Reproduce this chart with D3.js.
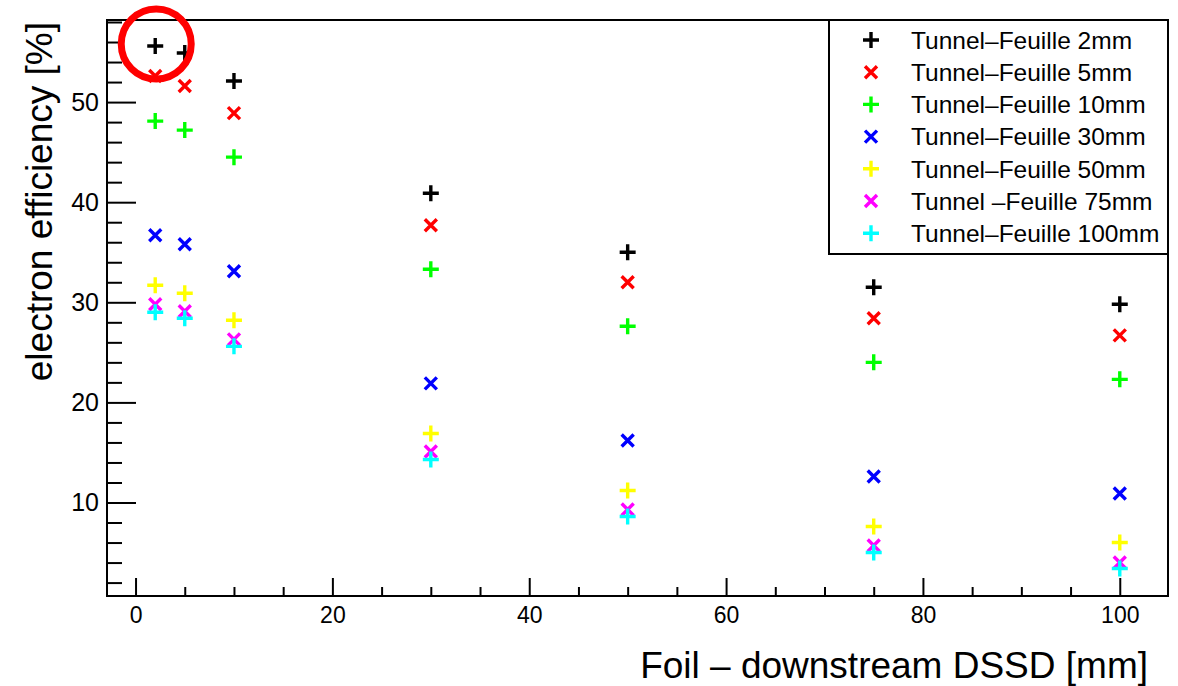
<!doctype html>
<html lang="fr">
<head>
  <meta charset="UTF-8">
  <title>electron efficiency vs foil distance</title>
  <script src="https://cdnjs.cloudflare.com/ajax/libs/d3/7.8.5/d3.min.js"></script>
  <style>
  body { margin: 0; background: #fff; }
  svg text { font-family: "Liberation Sans", Arial, Helvetica, sans-serif; fill: #000; }
  </style>
</head>
<body>

<script>

// distance foil - downstream DSSD [mm]
var distances = [2, 5, 10, 30, 50, 75, 100];

var seriesNames = [
  "Tunnel\u2013Feuille 2mm",
  "Tunnel\u2013Feuille 5mm",
  "Tunnel\u2013Feuille 10mm",
  "Tunnel\u2013Feuille 30mm",
  "Tunnel\u2013Feuille 50mm",
  "Tunnel \u2013Feuille 75mm",
  "Tunnel\u2013Feuille 100mm"
];

// electron efficiency [%], one array per tunnel-foil gap
var eff2mm   = [55.6, 54.9, 52.1, 40.9, 35.0, 31.5, 29.8];
var eff5mm   = [52.6, 51.6, 48.9, 37.7, 32.0, 28.4, 26.7];
var eff10mm  = [48.1, 47.2, 44.5, 33.3, 27.6, 24.0, 22.3];
var eff30mm  = [36.7, 35.8, 33.1, 21.9, 16.2, 12.6, 10.9];
var eff50mm  = [31.7, 30.9, 28.2, 16.9, 11.2,  7.6,  6.0];
var eff75mm  = [29.8, 29.1, 26.3, 15.1,  9.3,  5.7,  4.0];
var eff100mm = [29.0, 28.4, 25.6, 14.3,  8.6,  5.0,  3.4];

var colors  = ["#000000", "#ff0000", "#00ff00", "#0000ff", "#ffff00", "#ff00ff", "#00ffff"];
var markers = ["plus", "cross", "plus", "cross", "plus", "cross", "plus"];

var xMajor = [0, 20, 40, 60, 80, 100];
var yMajor = [10, 20, 30, 40, 50];

var series = [eff2mm, eff5mm, eff10mm, eff30mm, eff50mm, eff75mm, eff100mm].map(function(vals, i) {
  return {
    name: seriesNames[i],
    color: colors[i],
    marker: markers[i],
    points: vals.map(function(v, j) { return [distances[j], v]; })
  };
});

var w = 1178;
var h = 686;
var padL = 107, padR = 1168, padT = 20, padB = 596;

var svg = d3.select('body')
  .append('svg')
  .attr('width', w)
  .attr('height', h);

var x = d3.scaleLinear().domain([-2.9, 104.9]).range([padL, padR]);
var y = d3.scaleLinear().domain([0.66, 58.2]).range([padB, padT]);

function markerPath(type) {
  if (type === 'plus') return 'M-8,0H8M0,-8V8';
  return 'M-6,-6L6,6M-6,6L6,-6';
}

// axes: ROOT style ticks pointing into the frame
var yMinor = d3.range(2, 59, 2).filter(function(v) { return v % 10 !== 0; });
var xMinor = d3.range(0, 105, 5).filter(function(v) { return v % 20 !== 0; });

var yAxis = svg.append('g')
  .attr('transform', 'translate(' + padL + ',0)')
  .call(d3.axisLeft(y).tickValues(yMajor).tickSizeInner(-29).tickSizeOuter(0).tickPadding(8));
svg.append('g')
  .attr('transform', 'translate(' + padL + ',0)')
  .call(d3.axisLeft(y).tickValues(yMinor).tickSizeInner(-15).tickSizeOuter(0).tickFormat(''));

var xAxis = svg.append('g')
  .attr('transform', 'translate(0,' + padB + ')')
  .call(d3.axisBottom(x).tickValues(xMajor).tickSizeInner(-18).tickSizeOuter(0).tickPadding(11));
svg.append('g')
  .attr('transform', 'translate(0,' + padB + ')')
  .call(d3.axisBottom(x).tickValues(xMinor).tickSizeInner(-9).tickSizeOuter(0).tickFormat(''));

svg.selectAll('.domain').remove();
svg.selectAll('.tick line').attr('stroke', '#000').attr('stroke-width', 2);
yAxis.selectAll('text').attr('font-size', '25px');
xAxis.selectAll('text').attr('font-size', '23px');

// frame
svg.append('rect')
  .attr('x', padL)
  .attr('y', padT)
  .attr('width', padR - padL)
  .attr('height', padB - padT)
  .attr('fill', 'none')
  .attr('stroke', '#000')
  .attr('stroke-width', 2);

// axis titles
svg.append('text')
  .attr('transform', 'translate(52,' + (padT + 2) + ') rotate(-90)')
  .attr('text-anchor', 'end')
  .attr('font-size', '37px')
  .attr('fill', '#333')
  .text('electron efficiency [%]');

svg.append('text')
  .attr('x', 1148)
  .attr('y', 678)
  .attr('text-anchor', 'end')
  .attr('font-size', '37px')
  .attr('fill', '#333')
  .text('Foil \u2013 downstream DSSD [mm]');

// data markers
var groups = svg.selectAll('g.series')
  .data(series)
  .enter()
  .append('g')
  .attr('class', 'series');

groups.selectAll('path')
  .data(function(d) { return d.points.map(function(p) { return {p: p, s: d}; }); })
  .enter()
  .append('path')
  .attr('transform', function(d) { return 'translate(' + x(d.p[0]) + ',' + y(d.p[1]) + ')'; })
  .attr('d', function(d) { return markerPath(d.s.marker); })
  .attr('stroke', function(d) { return d.s.color; })
  .attr('stroke-width', 3.4)
  .attr('fill', 'none');

// legend
var legend = svg.append('g');
legend.append('rect')
  .attr('x', 829)
  .attr('y', padT)
  .attr('width', padR - 829)
  .attr('height', 234)
  .attr('fill', '#fff')
  .attr('stroke', '#000')
  .attr('stroke-width', 2);

var rows = legend.selectAll('g.row')
  .data(series)
  .enter()
  .append('g')
  .attr('class', 'row')
  .attr('transform', function(d, i) { return 'translate(0,' + (40 + i * 32.2) + ')'; });

rows.append('path')
  .attr('transform', 'translate(871,0)')
  .attr('d', function(d) { return markerPath(d.marker); })
  .attr('stroke', function(d) { return d.color; })
  .attr('stroke-width', 3.4)
  .attr('fill', 'none');

rows.append('text')
  .attr('x', 911)
  .attr('dy', '0.36em')
  .attr('font-size', '24.5px')
  .text(function(d) { return d.name; });

// red circle highlighting the first point
svg.append('circle')
  .attr('cx', x(distances[0]) + 1)
  .attr('cy', y(eff2mm[0]) - 2)
  .attr('r', 35)
  .attr('fill', 'none')
  .attr('stroke', '#ff0000')
  .attr('stroke-width', 7);

</script>

</body>
</html>
